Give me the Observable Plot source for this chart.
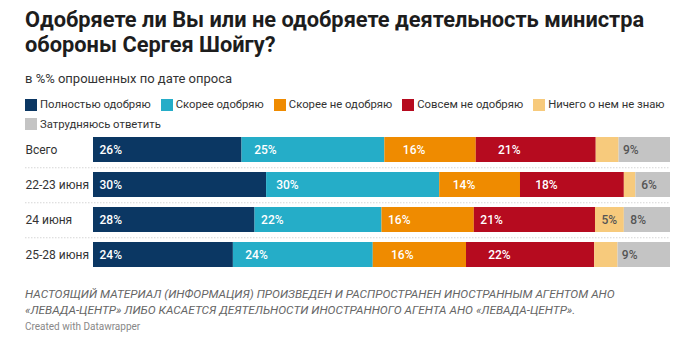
<!DOCTYPE html>
<html><head><meta charset="utf-8">
<script src="https://cdn.jsdelivr.net/npm/d3@7"></script>
<script src="https://cdn.jsdelivr.net/npm/@observablehq/plot@0.6"></script>
<style>
body{margin:0;background:#fff;font-family:Roboto,sans-serif;width:690px;height:338px;overflow:hidden}
#wrap{padding:0 0 0 25px;position:relative}
h1{margin:0;padding-top:7px;font-size:21.8px;line-height:25px;font-weight:700;color:#1d1d1d}
.sub{margin-top:14px;font-size:13px;color:#333;line-height:16px}
.legend{margin-top:9px;font-size:11.3px;color:#333;width:650px;line-height:17px}
.legend span.it{display:inline-flex;align-items:center;margin-right:10px}
.legend i{display:inline-block;width:12px;height:12px;margin-right:3px}
#chart{position:absolute;left:0;top:130px}
.foot{position:absolute;left:25px;top:286px;font-size:11.8px;font-style:italic;color:#666;line-height:16px;white-space:nowrap}
.credit{position:absolute;left:25px;top:321px;font-size:10px;color:#888}
</style></head><body>
<div id="wrap">
<h1>Одобряете ли Вы или не одобряете деятельность министра обороны Сергея Шойгу?</h1>
<div class="sub">в %% опрошенных по дате опроса</div>
<div class="legend" id="legend"></div>
</div>
<div id="chart"></div>
<div class="foot">НАСТОЯЩИЙ МАТЕРИАЛ (ИНФОРМАЦИЯ) ПРОИЗВЕДЕН И РАСПРОСТРАНЕН ИНОСТРАННЫМ АГЕНТОМ АНО<br>«ЛЕВАДА-ЦЕНТР» ЛИБО КАСАЕТСЯ ДЕЯТЕЛЬНОСТИ ИНОСТРАННОГО АГЕНТА АНО «ЛЕВАДА-ЦЕНТР».</div>
<div class="credit">Created with Datawrapper</div>
<script>
const rows = ["Всего", "22-23 июня", "24 июня", "25-28 июня"];
const categories = ["Полностью одобряю", "Скорее одобряю", "Скорее не одобряю", "Совсем не одобряю", "Ничего о нем не знаю", "Затрудняюсь ответить"];
const colors = ["#0b3763", "#25adc8", "#ef8b00", "#b60b1f", "#f7ca7c", "#c4c4c4"];
const labelColors = ["#fff", "#fff", "#fff", "#fff", "#555", "#555"];
const fullyApprove = [26, 30, 28, 24];
const ratherApprove = [25, 30, 22, 24];
const ratherDisapprove = [16, 14, 16, 16];
const fullyDisapprove = [21, 18, 21, 22];
const dontKnow = [4, 2, 5, 4];
const hardToSay = [9, 6, 8, 9];

const series = [fullyApprove, ratherApprove, ratherDisapprove, fullyDisapprove, dontKnow, hardToSay];
const data = [];
rows.forEach((r, i) => categories.forEach((c, j) => data.push({row: r, cat: c, value: series[j][i], lc: labelColors[j]})));

document.getElementById("legend").innerHTML = categories.map((c, j) =>
  `<span class="it"><i style="background:${colors[j]}"></i>${c}</span>`).join("");

const stackOpts = {x: "value", y: "row", z: "cat", order: categories, offset: "normalize"};
const chart = Plot.plot({
  width: 690, height: 144,
  marginLeft: 93, marginRight: 20, marginTop: 0, marginBottom: 0,
  style: {fontFamily: "Roboto, sans-serif"},
  x: {axis: null},
  y: {domain: rows, axis: null, paddingInner: 0.3, paddingOuter: 0.17},
  color: {domain: categories, range: colors},
  marks: [
    Plot.ruleY(rows.slice(0, 3), {y: d => d, dy: 17.75, stroke: "#d6d6d6", strokeDasharray: "1.5,1.5", insetLeft: -68}),
    Plot.barX(data, Plot.stackX({...stackOpts, fill: "cat"})),
    Plot.text(data.filter(d => d.value >= 5), Plot.stackX1({...stackOpts, text: d => d.value + "%", fill: "lc", textAnchor: "start", dx: 6, fontSize: 12, fontWeight: 500})),
    Plot.text(rows, {y: d => d, text: d => d, frameAnchor: "left", textAnchor: "start", dx: -68, fontSize: 12, fill: "#333"})
  ]
});
document.getElementById("chart").appendChild(chart);
</script>
</body></html>
